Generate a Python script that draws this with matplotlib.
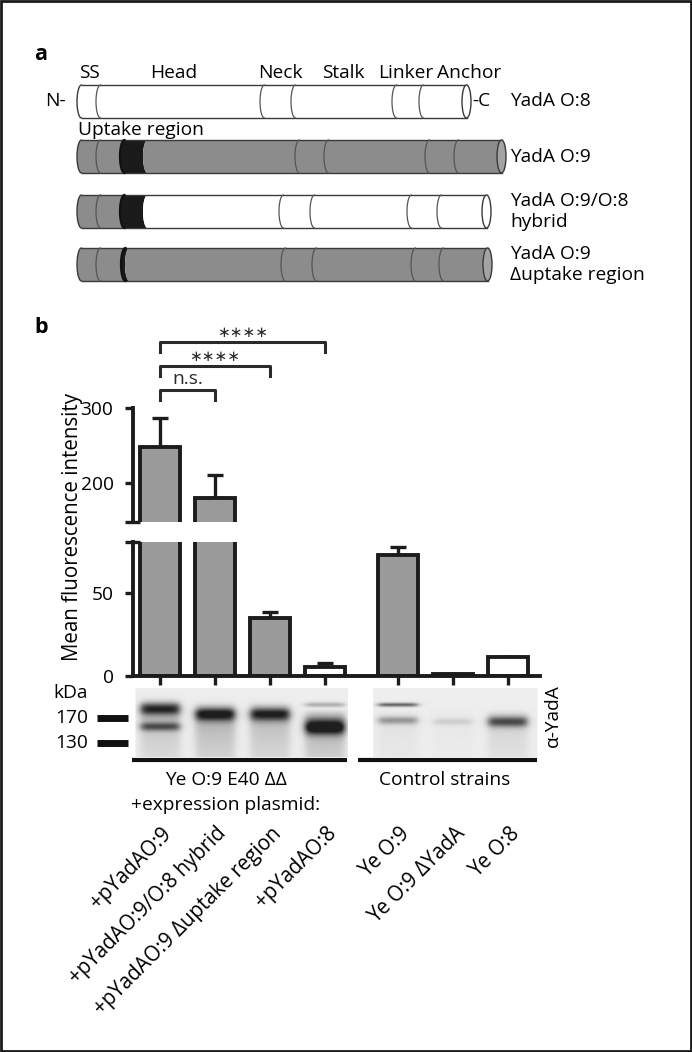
"""YadA construct schematic (a) and MFI bar chart with western blot (b)."""
import numpy as np
import matplotlib
matplotlib.use("Agg")
import matplotlib.pyplot as plt
from matplotlib.patches import Polygon, Ellipse, Rectangle
from matplotlib import transforms

plt.rcParams['font.family'] = ['Open Sans', 'DejaVu Sans']

W, H = 692, 1052
FS = 13.8

# ---------------- panel a: constructs (diagram units along the rod) ----------
constructs = ["YadA O:8", "YadA O:9", "YadA O:9/O:8\nhybrid",
              "YadA O:9\n\u0394uptake region"]
rod_start = [77, 77, 77, 77]
rod_end = [471, 506, 491, 492]
ss_end = [96, 96, 96, 96]
neck = [(260, 291), (295, 324), (279, 310), (281, 312)]
linker = [(392, 419), (425, 454), (407, 437), (411, 439)]
uptake = [None, (120, 143), (120, 143), (121, 125)]
nterm_fill = ["white", "grey", "grey", "grey"]
cterm_fill = ["white", "grey", "white", "grey"]
domain_names = ["SS", "Head", "Neck", "Stalk", "Linker", "Anchor"]

# ---------------- panel b: mean fluorescence intensity ------------------------
strains = ["+pYadAO:9", "+pYadAO:9/O:8 hybrid", "+pYadAO:9 \u0394uptake region",
           "+pYadAO:8", "Ye O:9", "Ye O:9 \u0394YadA", "Ye O:8"]
strain_group = [0, 0, 0, 0, 1, 1, 1]
mfi = [248, 180, 35, 5.4, 73, 1.0, 11.5]
mfi_err = [39, 31, 3.5, 2.4, 4.7, 0, 0]
bar_fill = ["grey", "grey", "grey", "white", "grey", "white", "white"]
sig_pairs = [(0, 1), (0, 2), (0, 3)]
sig_labels = ["n.s.", "\u2217\u2217\u2217\u2217", "\u2217\u2217\u2217\u2217"]

# western blot bands (lane index, position from top of blot 0..1, strength, thickness)
band_lane = [0, 0, 1, 2, 3, 3, 4, 4, 5, 6]
band_pos = [0.30, 0.56, 0.37, 0.37, 0.57, 0.24, 0.24, 0.47, 0.49, 0.49]
band_strength = [0.80, 0.50, 0.80, 0.75, 0.85, 0.25, 0.55, 0.30, 0.10, 0.55]
band_width = [0.065, 0.045, 0.070, 0.070, 0.075, 0.025, 0.020, 0.040, 0.035, 0.055]
lane_smear = [0.22, 0.30, 0.25, 0.35, 0.06, 0.03, 0.14]
ladder_kda = ["170", "130"]
ladder_pos = [0.43, 0.79]

GREY = "#8c8c8c"
BARGREY = "#9a9a9a"
EDGE = "#1c1c1c"

fig = plt.figure(figsize=(W / 100, H / 100), dpi=100)
fig.patch.set_facecolor("white")

# pixel-space overlay for schematic and free text
ax_px = fig.add_axes([0, 0, 1, 1])
ax_px.set_xlim(0, W)
ax_px.set_ylim(H, 0)
ax_px.axis("off")
ax_px.add_patch(Rectangle((1.3, 1.3), W - 2.6, H - 2.6, fill=False,
                          edgecolor="#1a1a1a", linewidth=2.0))


def px_axes(x0, y0, x1, y1):
    return fig.add_axes([x0 / W, 1 - y1 / H, (x1 - x0) / W, (y1 - y0) / H])


def arc(b, cy, h, a, n=40):
    # left half of an ellipse "(" whose leftmost point is at x=b, top -> bottom
    t = np.linspace(0, np.pi, n)
    return np.column_stack([b + a - a * np.sin(t), cy - h * np.cos(t)])


def rarc(b, cy, h, a, n=40):
    # right half ")" whose rightmost point is at x=b, top -> bottom
    t = np.linspace(0, np.pi, n)
    return np.column_stack([b - a + a * np.sin(t), cy - h * np.cos(t)])


def colour(name):
    return {"grey": GREY, "white": "white", "dark": "#1a1a1a"}[name]


# --- panel a ---
ax_px.text(34, 60, "a", fontsize=15.5, fontweight="bold", va="baseline")
label_x = [89, 174, 280, 343, 406, 469]
for name, lx in zip(domain_names, label_x):
    ax_px.text(lx, 73, name, fontsize=FS, ha="center", va="center")

row_top = [85, 140, 195, 248]
hh, aa = 16.5, 4.5
for i, name in enumerate(constructs):
    cy = row_top[i] + hh
    x0, x1 = rod_start[i], rod_end[i]
    if uptake[i] is None:
        regions = [(x0, x1, nterm_fill[i])]
    else:
        u0, u1 = uptake[i]
        regions = [(x0, u0, nterm_fill[i]), (u0, u1, "dark"), (u1, x1, cterm_fill[i])]
    for r0, r1, fill in regions:
        right = rarc(r1, cy, hh, aa) if r1 == x1 else arc(r1, cy, hh, aa)
        pts = np.vstack([arc(r0, cy, hh, aa), right[::-1]])
        ax_px.add_patch(Polygon(pts, closed=True, facecolor=colour(fill),
                                edgecolor="none", zorder=2))
    # outline
    ax_px.plot([x0 + aa, x1 - aa], [cy - hh, cy - hh], color="#3a3a3a", lw=1.0, zorder=3)
    ax_px.plot([x0 + aa, x1 - aa], [cy + hh, cy + hh], color="#3a3a3a", lw=1.0, zorder=3)
    p = arc(x0, cy, hh, aa)
    ax_px.plot(p[:, 0], p[:, 1], color="#3a3a3a", lw=1.0, zorder=3)
    for b in [ss_end[i], *neck[i], *linker[i]]:
        p = arc(b, cy, hh, aa)
        ax_px.plot(p[:, 0], p[:, 1], color="#555555", lw=0.9, zorder=3)
    if uptake[i] is not None:
        u0, u1 = uptake[i]
        p = arc(u0, cy, hh, aa)
        ax_px.plot(p[:, 0], p[:, 1], color="#111111", lw=1.6, zorder=3)
    endface = "#a3a3a3" if cterm_fill[i] == "grey" else "white"
    ax_px.add_patch(Ellipse((x1 - aa, cy), 2 * aa, 2 * hh, facecolor=endface,
                            edgecolor="#3a3a3a", lw=1.0, zorder=4))
    ax_px.text(510, cy, name, fontsize=FS, ha="left", va="center", zorder=5)

ax_px.text(66, row_top[0] + hh, "N-", fontsize=FS, ha="right", va="center")
ax_px.text(rod_end[0] + 1, row_top[0] + hh, "-C", fontsize=FS, ha="left", va="center")
ax_px.text(78, 130, "Uptake region", fontsize=FS, ha="left", va="center")

# --- panel b ---
ax_px.text(34, 333, "b", fontsize=15.5, fontweight="bold", va="baseline")
pos = np.arange(len(strains)) + 0.33 * np.array(strain_group)
xlim = (-0.49, 6.91)
fills = [BARGREY if f == "grey" else "white" for f in bar_fill]
err = np.array(mfi_err)

ax_up = px_axes(133, 408, 540, 522)
ax_lo = px_axes(133, 542, 540, 676)
for ax, lim in [(ax_up, (148, 300)), (ax_lo, (0, 80.7))]:
    ax.bar(pos, mfi, width=0.73, color=fills, edgecolor=EDGE, linewidth=2.8, zorder=2)
    ax.errorbar(pos, mfi, yerr=[np.zeros_like(err), err], fmt="none", ecolor=EDGE,
                elinewidth=2.4, capsize=5.5, capthick=2.4, zorder=1)
    ax.set_xlim(*xlim)
    ax.set_ylim(*lim)
    ax.patch.set_alpha(0)
    for s in ["top", "right"]:
        ax.spines[s].set_visible(False)
    ax.spines["left"].set_linewidth(2.8)
    ax.spines["left"].set_color(EDGE)
    ax.tick_params(axis="y", length=6, width=2.4, color=EDGE, labelsize=FS, pad=8)

ax_up.spines["bottom"].set_visible(False)
ax_up.set_xticks([])
ax_up.set_yticks([200, 300])
ax_lo.set_yticks([0, 50])
ax_lo.spines["bottom"].set_linewidth(2.8)
ax_lo.spines["bottom"].set_color(EDGE)
ax_lo.set_xticks(pos)
ax_lo.set_xticklabels([])
ax_lo.tick_params(axis="x", length=6.5, width=2.4, color=EDGE)

# axis-break marks
ax_up.plot([-0.02, 0.018], [0, 0], transform=ax_up.transAxes, color=EDGE,
           lw=2.4, clip_on=False, solid_capstyle="butt")
ax_lo.plot([-0.02, 0.018], [1, 1], transform=ax_lo.transAxes, color=EDGE,
           lw=2.4, clip_on=False, solid_capstyle="butt")

# significance brackets
for k, ((i, j), lab) in enumerate(zip(sig_pairs, sig_labels)):
    y = 324 + 32 * k
    ax_up.plot([pos[i], pos[i], pos[j], pos[j]], [y - 13, y, y, y - 13],
               color="#2a2a2a", lw=2.2, clip_on=False)
    ax_up.text((pos[i] + pos[j]) / 2, y + 3, lab, ha="center", va="bottom",
               fontsize=FS if lab == "n.s." else 11,
               family=["Open Sans"] if lab == "n.s." else ["DejaVu Sans"],
               color="#2a2a2a")

ax_px.text(73, 527, "Mean fluorescence intensity", fontsize=14.8, rotation=90,
           ha="center", va="center")

# western blot image
ax_bl = px_axes(133, 688, 540, 757)
ax_bl.axis("off")
gx = np.linspace(xlim[0], xlim[1], 500)
gy = np.linspace(0, 1, 90)
XX, YY = np.meshgrid(gx, gy)
inside = ((XX > -0.45) & (XX < 3.42)) | ((XX > 3.88) & (XX < 6.88))
dark = 0.07 * inside
for ln, sm in enumerate(lane_smear):
    prof = 1 / (1 + np.exp((np.abs(XX - pos[ln]) - 0.36) / 0.04))
    dark += sm * prof * np.clip((YY - 0.3) / 0.15, 0, 1) * np.exp(-(YY - 0.3) / 0.7)
for ln, yc, s, wd in zip(band_lane, band_pos, band_strength, band_width):
    prof = 1 / (1 + np.exp((np.abs(XX - pos[ln]) - 0.35) / 0.04))
    dark += s * prof * np.exp(-0.5 * ((YY - yc) / wd) ** 2)
img = 1 - np.clip(dark, 0, 0.88) * inside
ax_bl.imshow(img, cmap="gray", vmin=0, vmax=1, aspect="auto",
             extent=[xlim[0], xlim[1], 1, 0], interpolation="bilinear")
ax_bl.set_xlim(*xlim)
ax_bl.set_ylim(1, 0)

# ladder
lad = transforms.blended_transform_factory(ax_px.transData, ax_bl.transData)
for kda, yp in zip(ladder_kda, ladder_pos):
    ax_px.plot([97, 128], [yp, yp], transform=lad, color="#111111", lw=5,
               solid_capstyle="butt")
    ax_px.text(88, yp, kda, transform=lad, fontsize=FS, ha="right", va="center")
ax_px.text(88, 693, "kDa", fontsize=FS, ha="right", va="center")
ax_px.text(553, 716, "\u03b1-YadA", fontsize=FS, rotation=90, ha="center", va="center")

# group underlines and captions
under = transforms.blended_transform_factory(ax_lo.transData, ax_px.transData)
ax_px.plot([-0.51, 3.4], [760, 760], transform=under, color="#111111", lw=3,
           solid_capstyle="butt")
ax_px.plot([3.6, 6.86], [760, 760], transform=under, color="#111111", lw=3,
           solid_capstyle="butt")
ax_px.text(np.mean(pos[:4]) - 0.3, 780, "Ye O:9 E40 \u0394\u0394", transform=under,
           fontsize=FS, ha="center", va="center")
ax_px.text(np.mean(pos[:4]) - 0.3, 805, "+expression plasmid:", transform=under,
           fontsize=FS, ha="center", va="center")
ax_px.text(np.mean(pos[4:]) - 0.15, 780, "Control strains", transform=under,
           fontsize=FS, ha="center", va="center")

# rotated strain labels
shift = transforms.ScaledTranslation(1 / 100, 0, fig.dpi_scale_trans)
for p, lab in zip(pos, strains):
    ax_px.text(p, 823, lab, transform=under + shift, fontsize=14.8, rotation=45,
               rotation_mode="anchor", ha="right", va="top")

fig.savefig("out.png", dpi=100, facecolor="white")
